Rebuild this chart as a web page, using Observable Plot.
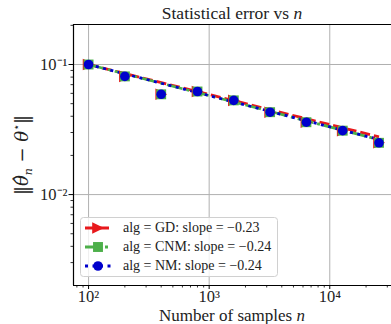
<!DOCTYPE html>
<html>
<head>
<meta charset="utf-8">
<script src="https://cdn.jsdelivr.net/npm/d3@7"></script>
<script src="https://cdn.jsdelivr.net/npm/@observablehq/plot@0.6"></script>
<style>
  html, body { margin: 0; padding: 0; background: #fff; }
  #chart { width: 391px; height: 324px; overflow: hidden; }
  svg { font-family: "Liberation Serif", "DejaVu Serif", serif; }
</style>
</head>
<body>
<div id="chart"></div>
<script>
// ---- data ----
const samples = [100, 200, 400, 800, 1600, 3200, 6400, 12800, 25600];
const errGD  = [0.100, 0.081, 0.059, 0.062, 0.053, 0.043, 0.036, 0.031, 0.025];
const errCNM = [0.100, 0.081, 0.059, 0.062, 0.053, 0.043, 0.036, 0.031, 0.025];
const errNM  = [0.100, 0.081, 0.059, 0.062, 0.053, 0.043, 0.036, 0.031, 0.025];
const fitX   = [100, 25600];
const fitGD  = [0.100, 0.0278];
const fitCNM = [0.100, 0.0265];
const fitNM  = [0.100, 0.0265];
const algs   = ["GD", "CNM", "NM"];
const slopes = ["−0.23", "−0.24", "−0.24"];
const colors = ["#e8191c", "#4daf4a", "#0000cc"];
const xMajor = [100, 1000, 10000];
const xMajorLabels = ["10²", "10³", "10⁴"];
const yMajor = [0.1, 0.01];
const yMajorLabels = ["10⁻¹", "10⁻²"];
const xMinor = [80, 90, 200, 300, 400, 500, 600, 700, 800, 900, 2000, 3000, 4000, 5000, 6000, 7000, 8000, 9000, 20000, 30000];
const yMinor = [0.003, 0.004, 0.005, 0.006, 0.007, 0.008, 0.009, 0.02, 0.03, 0.04, 0.05, 0.06, 0.07, 0.08, 0.09, 0.2];
const xDomain = [75, 32500];
const yDomain = [0.002, 0.203];

const dashes = ["10,4", "16,4,3,4", "3,4.5"];

const triRight = {
  draw(ctx, size) {
    const h = Math.sqrt(size / Math.PI);
    ctx.moveTo(h * 1.05, 0);
    ctx.lineTo(-h * 1.0, -h);
    ctx.lineTo(-h * 1.0, h);
    ctx.closePath();
  }
};
const symbols = [triRight, d3.symbolSquare, d3.symbolCircle];
const radii = [5.8, 5.6, 4.8];

const errs = [errGD, errCNM, errNM];
const fits = [fitGD, fitCNM, fitNM];

const lineMarks = fits.map((f, i) =>
  Plot.line(fitX.map((x, j) => ({x, y: f[j]})), {
    x: "x", y: "y", stroke: colors[i], strokeWidth: 2.8,
    strokeDasharray: dashes[i], strokeLinecap: "butt"
  })
);
const dotMarks = errs.map((e, i) =>
  Plot.dot(samples.map((x, j) => ({x, y: e[j]})), {
    x: "x", y: "y", fill: colors[i], stroke: "none",
    symbol: symbols[i], r: radii[i]
  })
);

const plot = Plot.plot({
  width: 391,
  height: 324,
  marginLeft: 73,
  marginRight: 0,
  marginTop: 24,
  marginBottom: 39,
  style: {fontFamily: "Liberation Serif", background: "white", overflow: "visible"},
  x: {type: "log", domain: xDomain},
  y: {type: "log", domain: yDomain},
  marks: [
    Plot.gridX(xMajor, {stroke: "#b0b0b0", strokeOpacity: 1, strokeWidth: 1}),
    Plot.gridY(yMajor, {stroke: "#b0b0b0", strokeOpacity: 1, strokeWidth: 1}),
    ...lineMarks,
    ...dotMarks,
    Plot.axisX(xMinor, {tickSize: 2.5, tickFormat: () => "", strokeWidth: 0.8, stroke: "#000", label: null}),
    Plot.axisY(yMinor, {tickSize: 2.5, tickFormat: () => "", strokeWidth: 0.8, stroke: "#000", label: null}),
    Plot.axisX(xMajor, {tickSize: 4, tickPadding: 1, strokeWidth: 1, stroke: "#000",
      tickFormat: (d) => xMajorLabels[xMajor.indexOf(d)], fontSize: 16.5, fill: "#222", label: null}),
    Plot.axisY(yMajor, {tickSize: 4.5, tickPadding: 1.5, strokeWidth: 1, stroke: "#000",
      tickFormat: (d) => yMajorLabels[yMajor.indexOf(d)], fontSize: 16.5, fill: "#222", label: null}),
    Plot.ruleX([xDomain[0]], {stroke: "#000", strokeWidth: 1.2}),
    Plot.ruleY([yDomain[0]], {stroke: "#000", strokeWidth: 1.2}),
    Plot.ruleY([yDomain[1]], {stroke: "#000", strokeWidth: 1.2})
  ]
});
document.getElementById("chart").appendChild(plot);

const svg = d3.select(plot);

// title
const title = svg.append("text").attr("x", 232).attr("y", 19)
  .attr("text-anchor", "middle").attr("font-size", 17.5).attr("fill", "#222");
title.append("tspan").text("Statistical error vs ");
title.append("tspan").attr("font-style", "italic").text("n");

// x label
const xl = svg.append("text").attr("x", 232).attr("y", 321)
  .attr("text-anchor", "middle").attr("font-size", 17).attr("fill", "#222");
xl.append("tspan").text("Number of samples ");
xl.append("tspan").attr("font-style", "italic").text("n");

// y label
const yl = svg.append("text").attr("transform", "translate(28,155) rotate(-90)")
  .attr("text-anchor", "middle").attr("font-size", 18).attr("fill", "#222")
  .attr("font-family", "DejaVu Serif");
yl.append("tspan").attr("font-weight", 300).text("‖");
yl.append("tspan").attr("font-style", "italic").text("θ̂");
yl.append("tspan").attr("font-style", "italic").attr("font-size", 11).attr("dy", 4).text("n");
yl.append("tspan").attr("dy", -4).text(" − ");
yl.append("tspan").attr("font-style", "italic").text("θ");
yl.append("tspan").attr("font-size", 11).attr("dy", -8).attr("font-family", "DejaVu Sans").text("⋆");
yl.append("tspan").attr("dy", 8).text("‖");

// legend
const lg = svg.append("g");
lg.append("rect").attr("x", 80.5).attr("y", 217.5).attr("width", 197).attr("height", 59)
  .attr("rx", 3).attr("fill", "white").attr("fill-opacity", 0.8).attr("stroke", "#d0d0d0");
const rowY = [228, 247, 266];
algs.forEach((a, i) => {
  const y = rowY[i];
  lg.append("line").attr("x1", 85).attr("x2", 111).attr("y1", y).attr("y2", y)
    .attr("stroke", colors[i]).attr("stroke-width", 2.8).attr("stroke-dasharray", dashes[i]);
  const sym = d3.symbol().type(symbols[i]).size(Math.PI * radii[i] * radii[i]);
  lg.append("path").attr("d", sym()).attr("transform", `translate(98,${y})`).attr("fill", colors[i]);
  lg.append("text").attr("x", 123).attr("y", y).attr("dy", "0.32em")
    .attr("text-anchor", "start")
    .attr("font-size", 14).attr("fill", "#222")
    .text(`alg = ${a}: slope = ${slopes[i]}`);
});
</script>
</body>
</html>
